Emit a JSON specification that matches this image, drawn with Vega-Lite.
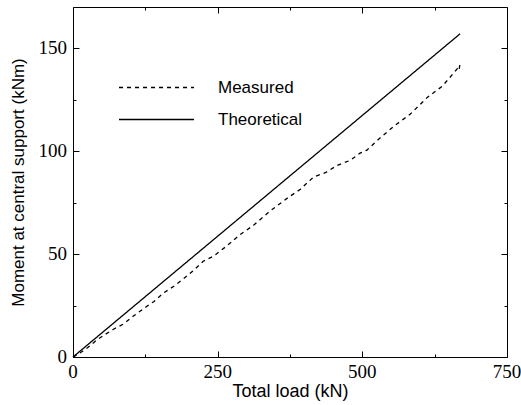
{
  "$schema": "https://vega.github.io/schema/vega-lite/v6.json",
  "width": 434,
  "height": 350,
  "autosize": {"type": "none"},
  "padding": {"left": 73, "top": 7, "right": 14, "bottom": 48},
  "background": "white",
  "config": {
    "view": {"stroke": null}
  },
  "resolve": {"axis": {"x": "independent", "y": "independent"}},
  "datasets": {
    "curves": [
      {"series": "Theoretical", "load": 0, "moment": 0},
      {"series": "Theoretical", "load": 669, "moment": 157},
      {"series": "Measured", "load": 0, "moment": 0},
      {"series": "Measured", "load": 10, "moment": 1.5},
      {"series": "Measured", "load": 25, "moment": 4.5},
      {"series": "Measured", "load": 40, "moment": 8},
      {"series": "Measured", "load": 53, "moment": 10.5},
      {"series": "Measured", "load": 70, "moment": 13.5},
      {"series": "Measured", "load": 87, "moment": 16},
      {"series": "Measured", "load": 105, "moment": 20},
      {"series": "Measured", "load": 122, "moment": 23.5},
      {"series": "Measured", "load": 140, "moment": 27},
      {"series": "Measured", "load": 156, "moment": 31},
      {"series": "Measured", "load": 175, "moment": 34.5},
      {"series": "Measured", "load": 191, "moment": 38},
      {"series": "Measured", "load": 208, "moment": 42},
      {"series": "Measured", "load": 225, "moment": 46.5},
      {"series": "Measured", "load": 243, "moment": 49},
      {"series": "Measured", "load": 266, "moment": 54},
      {"series": "Measured", "load": 289, "moment": 59.5},
      {"series": "Measured", "load": 312, "moment": 64},
      {"series": "Measured", "load": 341, "moment": 71},
      {"series": "Measured", "load": 372, "moment": 77.5},
      {"series": "Measured", "load": 393, "moment": 81.5},
      {"series": "Measured", "load": 416, "moment": 87.5},
      {"series": "Measured", "load": 436, "moment": 89.5},
      {"series": "Measured", "load": 456, "moment": 93},
      {"series": "Measured", "load": 479, "moment": 95.5},
      {"series": "Measured", "load": 496, "moment": 99},
      {"series": "Measured", "load": 508, "moment": 100.5},
      {"series": "Measured", "load": 525, "moment": 105},
      {"series": "Measured", "load": 554, "moment": 112},
      {"series": "Measured", "load": 583, "moment": 118},
      {"series": "Measured", "load": 612, "moment": 126},
      {"series": "Measured", "load": 638, "moment": 131.5},
      {"series": "Measured", "load": 652, "moment": 136},
      {"series": "Measured", "load": 664, "moment": 140},
      {"series": "Measured", "load": 667, "moment": 139},
      {"series": "Measured", "load": 669, "moment": 143}
    ],
    "xticks": [{"tick": 0}, {"tick": 250}, {"tick": 500}, {"tick": 750}],
    "yticks": [{"tick": 0}, {"tick": 50}, {"tick": 100}, {"tick": 150}]
  },
  "layer": [
    {
      "data": {"name": "curves"},
      "mark": {"type": "line", "color": "black", "strokeWidth": 1.3},
      "encoding": {
        "x": {
          "field": "load", "type": "quantitative",
          "scale": {"domain": [0, 750], "nice": false},
          "axis": {
            "orient": "bottom",
            "grid": false,
            "domainColor": "black",
            "tickColor": "black",
            "labels": false,
            "title": "Total load (kN)",
            "titleFont": "Liberation Sans",
            "titleFontSize": 18,
            "titleFontWeight": "normal",
            "titleColor": "black",
            "values": [0, 125, 250, 375, 500, 625, 750],
            "tickSize": {"condition": {"test": "datum.value % 250 === 0", "value": -6}, "value": -3},
            "titlePadding": 25
          }
        },
        "y": {
          "field": "moment", "type": "quantitative",
          "scale": {"domain": [0, 170], "nice": false},
          "axis": {
            "orient": "left",
            "grid": false,
            "domainColor": "black",
            "tickColor": "black",
            "labels": false,
            "title": "Moment at central support (kNm)",
            "titleFont": "Liberation Sans",
            "titleFontSize": 17,
            "titleFontWeight": "normal",
            "titleColor": "black",
            "values": [0, 25, 50, 75, 100, 125, 150],
            "tickSize": {"condition": {"test": "datum.value % 50 === 0", "value": -6}, "value": -3},
            "titlePadding": 45
          }
        },
        "strokeDash": {
          "field": "series", "type": "nominal",
          "scale": {"domain": ["Measured", "Theoretical"], "range": [[4, 4], [1, 0]]},
          "legend": {
            "orient": "none",
            "legendX": 70,
            "legendY": 67,
            "title": null,
            "symbolType": "M-3,0H3",
            "symbolSize": 625,
            "symbolStrokeColor": "black",
            "symbolStrokeWidth": 1.3,
            "labelFont": "Liberation Sans",
            "labelFontSize": 17,
            "labelColor": "black",
            "labelOffset": 48,
            "rowPadding": 10
          }
        }
      }
    },
    {
      "data": {"name": "curves"},
      "mark": {"type": "line", "opacity": 0},
      "encoding": {
        "x": {
          "field": "load", "type": "quantitative",
          "axis": {
            "orient": "top", "title": null, "labels": false, "grid": false,
            "domainColor": "black", "tickColor": "black",
            "values": [0, 125, 250, 375, 500, 625, 750],
            "tickSize": {"condition": {"test": "datum.value % 250 === 0", "value": -6}, "value": -3}
          }
        },
        "y": {
          "field": "moment", "type": "quantitative",
          "axis": {
            "orient": "right", "title": null, "labels": false, "grid": false,
            "domainColor": "black", "tickColor": "black",
            "values": [0, 25, 50, 75, 100, 125, 150],
            "tickSize": {"condition": {"test": "datum.value % 50 === 0", "value": -6}, "value": -3}
          }
        },
        "detail": {"field": "series", "type": "nominal"}
      }
    },
    {
      "data": {"name": "xticks"},
      "mark": {"type": "text", "font": "Liberation Serif", "fontSize": 19, "baseline": "top", "align": "center", "dy": 6, "color": "black"},
      "encoding": {
        "x": {"field": "tick", "type": "quantitative", "axis": null},
        "y": {"datum": 0, "type": "quantitative", "axis": null},
        "text": {"field": "tick", "type": "quantitative"}
      }
    },
    {
      "data": {"name": "yticks"},
      "mark": {"type": "text", "font": "Liberation Serif", "fontSize": 19, "baseline": "middle", "align": "right", "dx": -6, "color": "black"},
      "encoding": {
        "x": {"datum": 0, "type": "quantitative", "axis": null},
        "y": {"field": "tick", "type": "quantitative", "axis": null},
        "text": {"field": "tick", "type": "quantitative"}
      }
    }
  ]
}
